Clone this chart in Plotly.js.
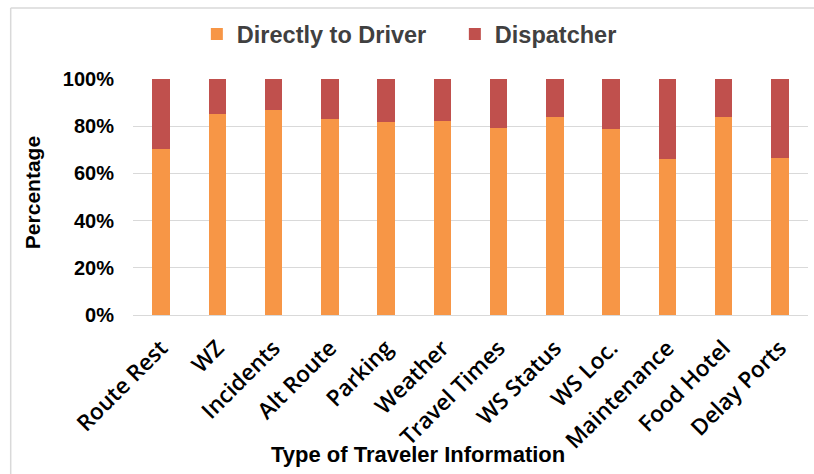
<!DOCTYPE html>
<html>
<head>
<meta charset="utf-8">
<script src="https://cdn.plot.ly/plotly-3.0.1.min.js"></script>
<style>
html,body{margin:0;padding:0;background:#fff;}
#chart{width:814px;height:474px;}
</style>
</head>
<body>
<div id="chart"></div>
<script>
const categories = ["Route Rest","WZ","Incidents","Alt Route","Parking","Weather","Travel Times","WS Status","WS Loc.","Maintenance","Food Hotel","Delay Ports"];
const directlyToDriver = [70.3, 85.0, 86.9, 82.9, 81.8, 82.3, 79.1, 83.8, 78.7, 66.1, 83.8, 66.7];
const dispatcher = [29.7, 15.0, 13.1, 17.1, 18.2, 17.7, 20.9, 16.2, 21.3, 33.9, 16.2, 33.3];
const yTicks = [0, 20, 40, 60, 80, 100];
const yTickLabels = ["0%", "20%", "40%", "60%", "80%", "100%"];
const seriesNames = ["Directly to Driver", "Dispatcher"];

const FONT = '"Liberation Sans", Arial, sans-serif';
const TICKFONT = '"Open Sans", "Liberation Sans", sans-serif';

const traces = [
  {type:'bar', name:seriesNames[0], x:categories, y:directlyToDriver,
   marker:{color:'#F79646'}, hoverinfo:'x+y+name'},
  {type:'bar', name:seriesNames[1], x:categories, y:dispatcher,
   marker:{color:'#C0504D'}, hoverinfo:'x+y+name'}
];

const layout = {
  width:814, height:474,
  margin:{l:132.5, r:5.5, t:79, b:159},
  paper_bgcolor:'#ffffff', plot_bgcolor:'#ffffff',
  barmode:'stack', bargap:0.69,
  font:{family:FONT, color:'#000'},
  showlegend:true,
  legend:{orientation:'h', x:0.0946, xanchor:'left', y:1.19, yanchor:'middle',
    font:{family:FONT, size:23.5, color:'#404040', weight:'bold'},
    itemwidth:30, entrywidth:213, entrywidthmode:'pixels',
    traceorder:'normal', bgcolor:'rgba(0,0,0,0)'},
  xaxis:{type:'category', range:[-0.5, 11.5], tickangle:-45,
    tickfont:{family:TICKFONT, size:22.5, color:'#000', weight:600},
    showgrid:false, showline:true, linecolor:'#d9d9d9', linewidth:1,
    ticks:'', ticklabelstandoff:10, fixedrange:true},
  yaxis:{range:[0,100], tickmode:'array', tickvals:yTicks, ticktext:yTickLabels,
    tickfont:{family:FONT, size:20, color:'#000', weight:'bold'},
    showgrid:true, gridcolor:'#d9d9d9', gridwidth:1,
    zeroline:false, showline:false, ticks:'', ticklabelstandoff:18, fixedrange:true},
  annotations:[
    {text:'Type of Traveler Information', xref:'paper', yref:'paper',
     x:0.4224, y:-0.589, xanchor:'center', yanchor:'middle', showarrow:false,
     font:{family:FONT, size:22, color:'#000', weight:'bold'}},
    {text:'Percentage', xref:'paper', yref:'paper', textangle:-90,
     x:-0.1487, y:0.519, xanchor:'center', yanchor:'middle', showarrow:false,
     font:{family:FONT, size:21, color:'#000', weight:'bold'}}
  ],
  shapes:[
    {type:'line', xref:'paper', yref:'paper', x0:-0.1812, x1:-0.1812, y0:1.3008, y1:-0.7,
     line:{color:'#d9d9d9', width:1.5}},
    {type:'line', xref:'paper', yref:'paper', x0:-0.1812, x1:1.01, y0:1.3008, y1:1.3008,
     line:{color:'#d9d9d9', width:1.5}}
  ]
};

Plotly.newPlot('chart', traces, layout, {displayModeBar:false, staticPlot:true});
</script>
</body>
</html>
